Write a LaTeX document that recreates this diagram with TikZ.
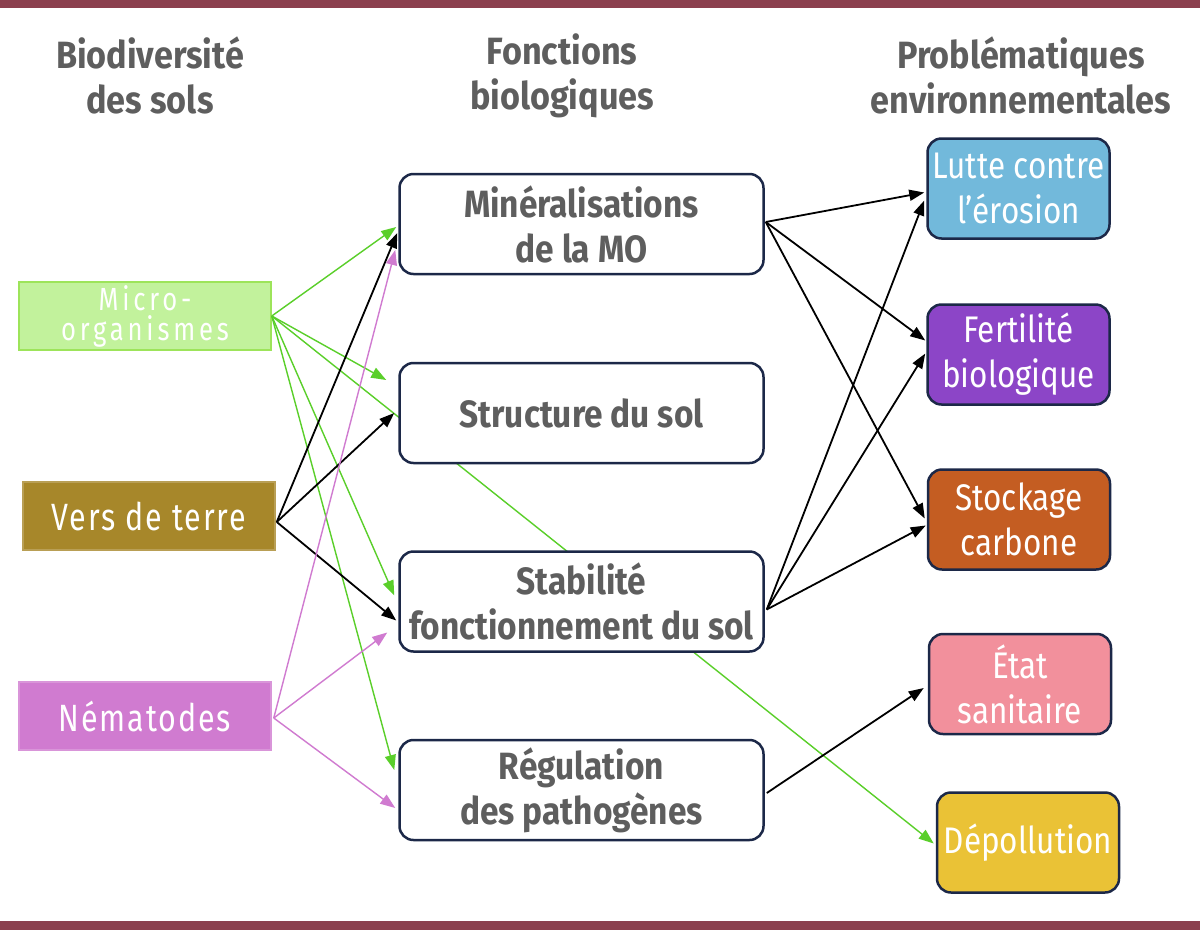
\documentclass[tikz,border=0pt]{standalone}
\usepackage{fontspec}
\setmainfont{Fira Sans}[FakeStretch=0.8]
\newfontfamily\headfont{Fira Sans}[FakeStretch=0.9]
\newfontfamily\midfont{Fira Sans}[FakeStretch=0.88]
\newfontfamily\probfont{Fira Sans}[FakeStretch=0.85]
\newfontfamily\biofont{Fira Sans}[FakeStretch=0.8,LetterSpace=5]
\newfontfamily\microfont{Fira Sans}[FakeStretch=0.8,LetterSpace=12]
\usetikzlibrary{arrows.meta,calc}
\definecolor{bar}{HTML}{8B404E}
\definecolor{headgray}{HTML}{5E5E5E}
\definecolor{navy}{HTML}{1C2848}
\definecolor{microfill}{HTML}{C2F29C}
\definecolor{microdraw}{HTML}{9DE45A}
\definecolor{versfill}{HTML}{A7872A}
\definecolor{nemafill}{HTML}{D07BD0}
\definecolor{luttefill}{HTML}{72B9DB}
\definecolor{fertfill}{HTML}{8C45C7}
\definecolor{stockfill}{HTML}{C45D22}
\definecolor{etatfill}{HTML}{F2909C}
\definecolor{depolfill}{HTML}{EAC236}
\definecolor{arrgreen}{HTML}{5ACF2A}
\definecolor{arrpink}{HTML}{D07BD0}
\pgfdeclarelayer{bg}
\pgfdeclarelayer{paper}
\pgfsetlayers{paper,bg,main}
\tikzset{
  head/.style={text=headgray, align=center, font=\headfont\fontsize{38}{45}\selectfont\bfseries, inner sep=0pt},
  biobox/.style={minimum width=252pt, minimum height=68pt, text=white, align=center, inner sep=0pt, line width=1.5pt},
  midbox/.style={draw=navy, line width=2.5pt, rounded corners=14pt, fill=white, minimum width=364pt, minimum height=100pt, align=center, text=headgray, font=\midfont\fontsize{38}{45}\selectfont\bfseries, inner sep=0pt},
  probbox/.style={draw=navy, line width=2.5pt, rounded corners=14pt, minimum width=182pt, minimum height=100pt, align=center, text=white, font=\probfont\fontsize{37}{45}\selectfont, inner sep=0pt},
  tip/.style={-{Triangle[length=15pt,width=11pt]}},
  garr/.style={tip, draw=arrgreen, fill=arrgreen, line width=1.4pt},
  parr/.style={tip, draw=arrpink, fill=arrpink, line width=1.4pt},
  karr/.style={tip, draw=black, fill=black, line width=1.8pt},
}
\begin{document}
\begin{tikzpicture}[x=1pt,y=-1pt]
\useasboundingbox (0,0) rectangle (1200,930);
\begin{pgfonlayer}{paper}
\fill[white] (0,0) rectangle (1200,930);
\fill[bar] (0,0) rectangle (1200,8);
\fill[bar] (0,921) rectangle (1200,930);
\end{pgfonlayer}

% headings
\node[head] (h1) at (150,75) {Biodiversité\\des sols};
\node[head] (h2) at (562,76) {Fonctions\\biologiques};
\node[head] (h3) at (1021,75) {Problématiques\\environnementales};

% left column
\node[biobox, fill=microfill, draw=microdraw, font=\microfont\fontsize{32}{30}\selectfont] (micro) at (145,316) {Micro-\\organismes};
\node[biobox, fill=versfill, draw=versfill!80!white, font=\biofont\fontsize{38}{40}\selectfont] (vers) at (149,516) {Vers de terre};
\node[biobox, fill=nemafill, draw=nemafill!80!white, font=\biofont\fontsize{38}{40}\selectfont] (nema) at (145,716) {Nématodes};

% middle column
\node[midbox] (mine) at (581.5,224) {Minéralisations\\de la MO};
\node[midbox] (struc) at (581.5,413) {Structure du sol};
\node[midbox] (stab) at (581.5,601.5) {Stabilité\\fonctionnement du sol};
\node[midbox] (regu) at (581.5,790) {Régulation\\des pathogènes};

% right column
\node[probbox, fill=luttefill] (lutte) at (1018.5,188.5) {Lutte contre\\l’érosion};
\node[probbox, fill=fertfill] (fert) at (1018.5,354.5) {Fertilité\\biologique};
\node[probbox, fill=stockfill] (stock) at (1019,519.5) {Stockage\\carbone};
\node[probbox, fill=etatfill] (etat) at (1020,684) {État\\sanitaire};
\node[probbox, fill=depolfill] (depol) at (1028,842.5) {Dépollution};

% line behind the boxes
\begin{pgfonlayer}{bg}
\draw[garr] (micro.east) -- ($(depol.west)+(-2,1)$);
\end{pgfonlayer}

% micro-organismes
\draw[garr] (micro.east) -- ($(mine.west)+(-2,3)$);
\draw[garr] (micro.east) -- ($(struc.west)+(-12,-33)$);
\draw[garr] (micro.east) -- ($(stab.west)+(-4,-6)$);
\draw[garr] (micro.east) -- ($(regu.west)+(-4,-20)$);

% vers de terre
\draw[karr] ($(vers.east)+(1,6)$) -- ($(mine.west)+(-1,9)$);
\draw[karr] ($(vers.east)+(1,6)$) -- ($(struc.west)+(-4,0)$);
\draw[karr] ($(vers.east)+(1,6)$) -- ($(stab.west)+(-2,19)$);

% nematodes
\draw[parr] ($(nema.east)+(2,2)$) -- ($(mine.west)+(-3,26)$);
\draw[parr] ($(nema.east)+(2,2)$) -- ($(stab.west)+(-11,31)$);
\draw[parr] ($(nema.east)+(2,2)$) -- ($(regu.west)+(-3,18)$);

% mineralisations
\draw[karr] ($(mine.east)+(1,-2)$) -- ($(lutte.west)+(-2,4)$);
\draw[karr] ($(mine.east)+(1,-2)$) -- ($(fert.west)+(-1,-14)$);
\draw[karr] ($(mine.east)+(1,-2)$) -- ($(stock.west)+(-2,-1)$);

% stabilite
\draw[karr] ($(stab.east)+(2,8)$) -- ($(lutte.west)+(-2,12)$);
\draw[karr] ($(stab.east)+(2,8)$) -- ($(fert.west)+(-1,-1)$);
\draw[karr] ($(stab.east)+(2,8)$) -- ($(stock.west)+(-1,6)$);

% regulation
\draw[karr] ($(regu.east)+(2,3)$) -- ($(etat.west)+(-4,4)$);
\end{tikzpicture}
\end{document}
